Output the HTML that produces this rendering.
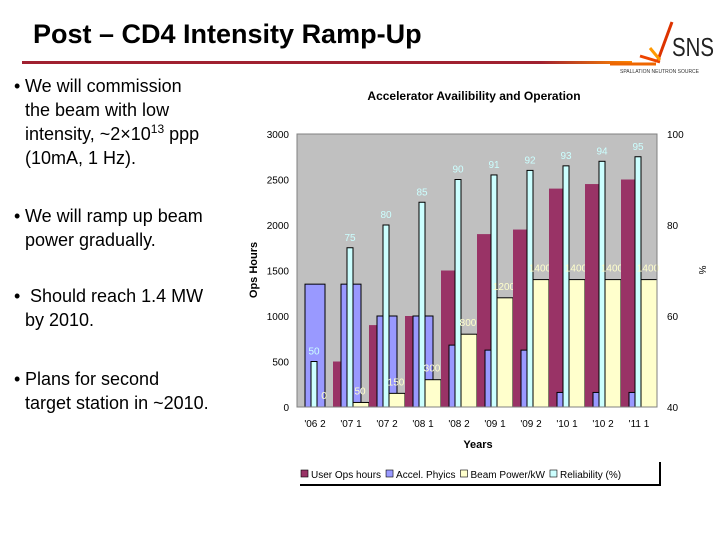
<!DOCTYPE html>
<html><head><meta charset="utf-8"><style>
body{margin:0;width:720px;height:540px;background:#fff;font-family:"Liberation Sans",Arial,sans-serif;position:relative;overflow:hidden}
.t{position:absolute;font-size:18px;line-height:24px;color:#000}
.t sup{line-height:0;font-size:12px}
.b{position:absolute;font-size:18px}
</style></head><body>
<div style="position:absolute;left:33px;top:21px;font-size:27px;line-height:27px;font-weight:bold">Post – CD4 Intensity Ramp-Up</div>
<div style="position:absolute;left:22px;top:61px;width:610px;height:3px;background:linear-gradient(90deg,#a02030 0%,#a02030 85%,#f80 100%)"></div>
<svg style="position:absolute;left:610px;top:18px" width="110" height="58">
<line x1="0" y1="46" x2="46" y2="46" stroke="#e60" stroke-width="3"/>
<line x1="30" y1="38" x2="50" y2="44" stroke="#e40" stroke-width="3"/>
<line x1="48" y1="42" x2="62" y2="4" stroke="#d30" stroke-width="3"/>
<line x1="40" y1="30" x2="50" y2="42" stroke="#f90" stroke-width="3"/>
<text x="62" y="38" font-size="26" font-family="Liberation Sans" fill="#222" textLength="42" lengthAdjust="spacingAndGlyphs">SNS</text>
<text x="10" y="55" font-size="5" font-family="Liberation Sans" fill="#333">SPALLATION NEUTRON SOURCE</text>
</svg>
<div class="b" style="left:14px;top:76px">•</div>
<div class="t" style="left:25px;top:74px">We will commission<br>the beam with low<br>intensity, ~2×10<sup>13</sup> ppp<br>(10mA, 1 Hz).</div>
<div class="b" style="left:14px;top:206px">•</div>
<div class="t" style="left:25px;top:204px">We will ramp up beam<br>power gradually.</div>
<div class="b" style="left:14px;top:286px">•</div>
<div class="t" style="left:25px;top:284px">&nbsp;Should reach 1.4 MW<br>by 2010.</div>
<div class="b" style="left:14px;top:369px">•</div>
<div class="t" style="left:25px;top:367px">Plans for second<br>target station in ~2010.</div>
<svg id="chart" style="position:absolute;left:0;top:0" width="720" height="540" font-family="Liberation Sans, Arial, sans-serif"></svg>
<script>
const categories=["'06 2","'07 1","'07 2","'08 1","'08 2","'09 1","'09 2","'10 1","'10 2","'11 1"];
const userOps=[0,500,900,1000,1500,1900,1950,2400,2450,2500];
const accelPhys=[1350,1350,1000,1000,680,625,625,160,160,160];
const beamPower=[0,50,150,300,800,1200,1400,1400,1400,1400];
const reliability=[50,75,80,85,90,91,92,93,94,95];
const leftTicks=[0,500,1000,1500,2000,2500,3000];
const rightTicks=[40,60,80,100];
const svg=document.getElementById('chart');const NS='http://www.w3.org/2000/svg';
const X0=297,X1=657,Y0=407,Y1=134,CW=(X1-X0)/categories.length;
const yL=v=>Y0-(v/3000)*(Y0-Y1);
const yR=v=>Y0-((v-40)/60)*(Y0-Y1);
function mk(t,a,txt){const e=document.createElementNS(NS,t);for(const k in a)e.setAttribute(k,a[k]);if(txt!==undefined)e.textContent=txt;svg.appendChild(e);return e;}
let e;
e=mk('text',{x:474,y:100,'font-size':12,'font-weight':'bold','text-anchor':'middle'},'Accelerator Availibility and Operation');


e=mk('rect',{x:X0,y:Y1,width:X1-X0,height:Y0-Y1,fill:'#c0c0c0'});


leftTicks.forEach(v=>{e=mk('text',{x:289,y:yL(v)+4,'font-size':10,'text-anchor':'end'},v);

});
rightTicks.forEach(v=>{e=mk('text',{x:667,y:yR(v)+4,'font-size':10},v);

});
e=mk('text',{x:0,y:0,'font-size':11,'font-weight':'bold','text-anchor':'middle',transform:'translate(257,270) rotate(-90)'},'Ops Hours');


e=mk('text',{x:0,y:0,'font-size':10,'text-anchor':'middle',transform:'translate(699,270) rotate(90)'},'%');


e=mk('text',{x:478,y:448,'font-size':11,'font-weight':'bold','text-anchor':'middle'},'Years');


categories.forEach((c,i)=>{const cx=X0+i*CW;
e=mk('rect',{x:cx,y:yL(userOps[i]),width:16,height:Y0-yL(userOps[i]),fill:'#993366'});


e=mk('rect',{x:cx+8,y:yL(accelPhys[i]),width:20,height:Y0-yL(accelPhys[i]),fill:'#9999ff',stroke:'#000','stroke-width':1});


e=mk('rect',{x:cx+20,y:yL(beamPower[i]),width:16,height:Y0-yL(beamPower[i]),fill:'#ffffcc',stroke:'#000','stroke-width':1});


e=mk('rect',{x:cx+14,y:yR(reliability[i]),width:6,height:Y0-yR(reliability[i]),fill:'#ccffff',stroke:'#000','stroke-width':1});


e=mk('text',{x:cx+17,y:yR(reliability[i])-7,'font-size':10,'text-anchor':'middle',fill:'#ccffff'},reliability[i]);


e=mk('text',{x:cx+27,y:yL(beamPower[i])-8,'font-size':10,'text-anchor':'middle',fill:'#ffffcc'},beamPower[i]);


e=mk('text',{x:cx+18,y:427,'font-size':10,'text-anchor':'middle'},c);


});
mk('line',{x1:X0,y1:Y0,x2:X1,y2:Y0,stroke:'#000'});
mk('rect',{x:X0,y:Y1,width:X1-X0,height:Y0-Y1,fill:'none',stroke:'#808080'});
const leg=[['#993366','User Ops hours'],['#9999ff','Accel. Phyics'],['#ffffcc','Beam Power/kW'],['#ccffff','Reliability (%)']];
mk('line',{x1:300,y1:485,x2:661,y2:485,stroke:'#000','stroke-width':2});
mk('line',{x1:660,y1:462,x2:660,y2:485,stroke:'#000','stroke-width':2});
let lx=301;leg.forEach(l=>{e=mk('rect',{x:lx,y:470,width:7,height:7,fill:l[0],stroke:'#000','stroke-width':0.6});


const t=mk('text',{x:lx+10,y:478,'font-size':10},l[1]);


lx+=10+t.getComputedTextLength()+5;});
</script>
</body></html>
